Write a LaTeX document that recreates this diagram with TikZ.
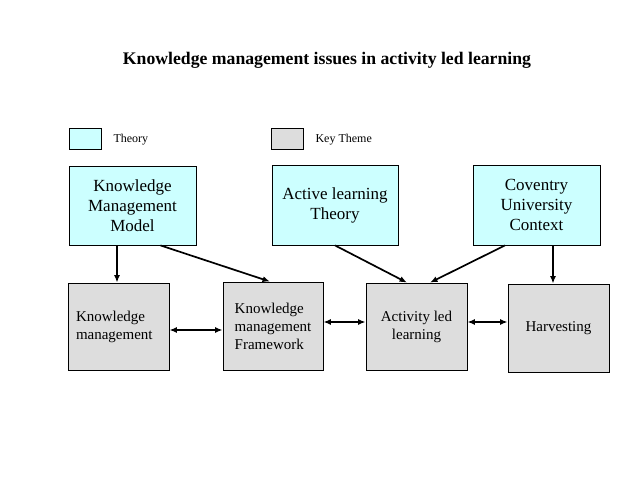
\documentclass[tikz,border=0pt]{standalone}
\usepackage{fontspec}
\setmainfont{Liberation Serif}
\usetikzlibrary{arrows.meta}

\definecolor{theorycyan}{RGB}{204,255,255}
\definecolor{themegray}{RGB}{221,221,221}

\begin{document}
\begin{tikzpicture}[
    x=1pt, y=-1pt,
    >={Latex[length=7.5pt,width=6pt]}, % Set default arrow tip style
    theory/.style={draw, thick, fill=theorycyan, align=center, font=\fontsize{17}{20}\selectfont}, % Style for theory boxes
    keytheme/.style={draw, thick, fill=themegray, align=center, font=\fontsize{15}{18}\selectfont}, % Style for key theme boxes
    legendbox/.style={draw, thick, minimum width=32pt, minimum height=21pt}, % Style for legend swatches
    link/.style={->, line width=1.7pt}, % Style for one way arrows
    twoway/.style={<->, line width=1.7pt} % Style for two way arrows
]
    \useasboundingbox (0,0) rectangle (638,479);

    % Title
    \node[font=\bfseries\fontsize{17.7}{21}\selectfont] (title) at (327,60.5) {Knowledge management issues in activity led learning};

    % Legend
    \node[legendbox, fill=theorycyan] (legtheory) at (85,139) {};
    \node[font=\fontsize{12}{14}\selectfont, anchor=west] (legtheorytext) at (110,140) {Theory};
    \node[legendbox, fill=themegray] (legtheme) at (287.5,139) {};
    \node[font=\fontsize{12}{14}\selectfont, anchor=west] (legthemetext) at (312,140) {Key Theme};

    % Theory boxes
    \node[theory, minimum width=127pt, minimum height=79pt] (kmm) at (132.5,205.5) {Knowledge\\Management\\Model};
    \node[theory, minimum width=126pt, minimum height=80pt] (alt) at (335,205) {Active learning\\Theory};
    \node[theory, minimum width=127pt, minimum height=80pt] (cu) at (536.5,205) {Coventry\\University\\Context};

    % Key theme boxes
    \node[keytheme, minimum width=101pt, minimum height=87pt, align=left, text width=85pt] (km) at (118.5,326.5) {Knowledge\\management};
    \node[keytheme, minimum width=100pt, minimum height=88pt, align=left] (kmf) at (273,326) {Knowledge\\management\\Framework};
    \node[keytheme, minimum width=101pt, minimum height=87pt] (all) at (416.5,326.5) {Activity led\\learning};
    \node[keytheme, minimum width=101pt, minimum height=88pt] (hv) at (558.5,328) {Harvesting};

    % Arrows from theories
    \draw[link] ([xshift=-1.5pt]km.north |- kmm.south) -- ([xshift=-1.5pt]km.north);
    \draw[link] ([xshift=28pt]kmm.south) -- ([xshift=-3pt]kmf.north);
    \draw[link] (alt.south) -- ([xshift=-9.5pt]all.north);
    \draw[link] ([xshift=-31.5pt]cu.south) -- ([xshift=13.5pt]all.north);
    \draw[link] ([xshift=16.5pt]cu.south) -- ([xshift=-5.5pt]hv.north);

    % Links between key themes
    \draw[twoway] ([yshift=-3.5pt]km.east) -- ([yshift=-3.5pt]km.east -| kmf.west);
    \draw[twoway] ([yshift=4pt]kmf.east) -- ([yshift=4pt]kmf.east -| all.west);
    \draw[twoway] ([yshift=4.5pt]all.east) -- ([yshift=4.5pt]all.east -| hv.west);

\end{tikzpicture}
\end{document}
